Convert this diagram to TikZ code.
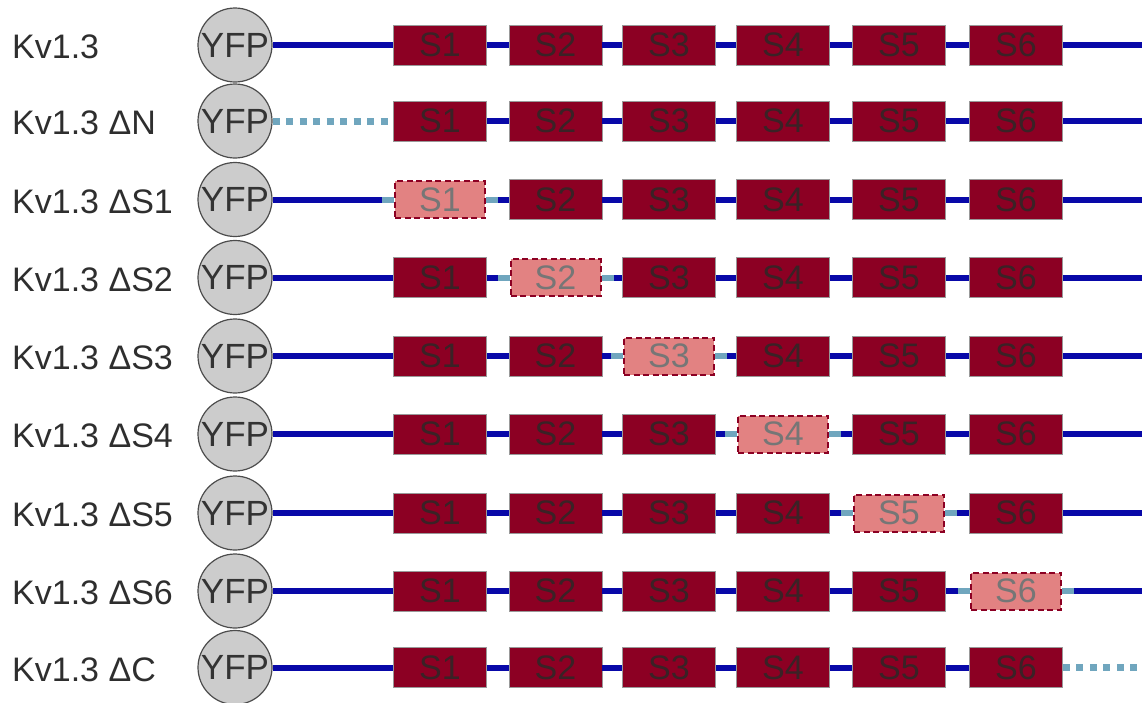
\documentclass[tikz,border=0pt]{standalone}
\usepackage{fontspec}
\setmainfont{Liberation Sans}
\definecolor{chainblue}{RGB}{8,8,168}
\definecolor{segred}{RGB}{140,0,35}
\definecolor{segpink}{RGB}{226,130,130}
\definecolor{linkgrey}{RGB}{112,166,190}
\definecolor{yfpgrey}{RGB}{204,204,204}
\definecolor{segtext}{RGB}{58,34,38}
\definecolor{deltext}{RGB}{118,118,118}
\tikzset{
  rowlabel/.style={anchor=west, inner sep=0pt, text=black!82,
    font=\fontsize{34}{40}\selectfont},
  yfpball/.style={circle, draw=black!70, line width=1.2pt, fill=yfpgrey,
    minimum size=74pt, inner sep=0pt, text=black!80,
    font=\fontsize{35}{40}\selectfont},
  segbox/.style={rectangle, draw=black!40, line width=0.8pt, fill=segred,
    minimum width=93pt, minimum height=40pt, inner sep=0pt, text=segtext,
    font=\fontsize{34}{40}\selectfont},
  delbox/.style={rectangle, draw=segred, dash pattern=on 6pt off 3.5pt,
    line width=2pt, fill=segpink,
    minimum width=90pt, minimum height=37pt, inner sep=0pt, text=deltext,
    font=\fontsize{34}{40}\selectfont},
  backbone/.style={draw=chainblue, line width=6pt},
  linkstub/.style={draw=linkgrey, line width=6pt},
  absent/.style={draw=linkgrey, line width=7pt, dash pattern=on 7pt off 6.5pt},
}
\begin{document}
\begin{tikzpicture}[x=1pt, y=-1pt]
\useasboundingbox (0,0) rectangle (1142,702);
% rows: index / centre y / label / removed part (0 none, 1-6 segment, 10 N-term, 11 C-term)
\foreach \r/\yy/\lab/\del in {
  1/45/{Kv1.3}/0,
  2/121/{Kv1.3 ΔN}/10,
  3/199.5/{Kv1.3 ΔS1}/1,
  4/277.5/{Kv1.3 ΔS2}/2,
  5/356/{Kv1.3 ΔS3}/3,
  6/434/{Kv1.3 ΔS4}/4,
  7/513/{Kv1.3 ΔS5}/5,
  8/591/{Kv1.3 ΔS6}/6,
  9/667.5/{Kv1.3 ΔC}/11} {
  \node[rowlabel] (lab-\r) at (12,\yy+2) {\lab};
  \node[yfpball] (yfp-\r) at (235,\yy) {YFP};
  \coordinate (end-\r) at (1142,\yy);
  \foreach \k/\x in {1/440,2/555.5,3/669,4/783,5/899,6/1016} {
    \ifnum\k=\del
      \node[delbox] (s-\r-\k) at (\x,\yy) {S\k};
    \else
      \node[segbox] (s-\r-\k) at (\x,\yy) {S\k};
    \fi
  }
  % N-terminal link
  \ifnum\del=10
    \draw[absent] (yfp-\r) -- (s-\r-1);
  \else
    \draw[backbone] (yfp-\r) -- (s-\r-1);
  \fi
  % links between transmembrane segments
  \foreach \k [evaluate=\k as \n using int(\k+1)] in {1,...,5} {
    \draw[backbone] (s-\r-\k) -- (s-\r-\n);
  }
  % C-terminal tail
  \ifnum\del=11
    \draw[absent] (s-\r-6.east) -- (end-\r);
  \else
    \draw[backbone] (s-\r-6.east) -- (end-\r);
  \fi
  % short grey links flanking a removed segment
  \ifnum\del>0 \ifnum\del<7
    \draw[linkstub] (s-\r-\del.west) -- ++(-12,0);
    \draw[linkstub] (s-\r-\del.east) -- ++(12,0);
  \fi\fi
}
\end{tikzpicture}
\end{document}
